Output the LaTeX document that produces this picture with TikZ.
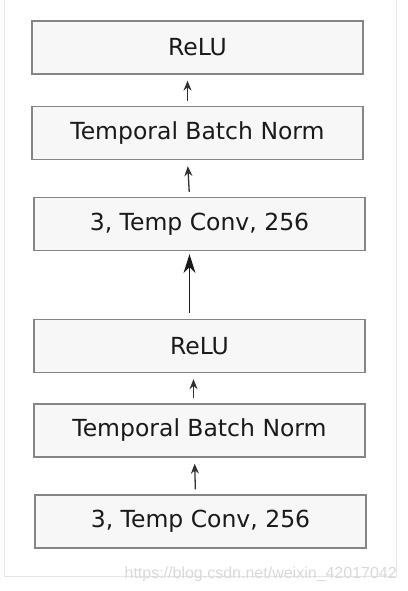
\documentclass[tikz,border=0pt]{standalone}
\usepackage{fontspec}
\setmainfont{DejaVu Sans}
\newfontfamily\wmfont{Liberation Sans}
\usetikzlibrary{arrows.meta,positioning}

\definecolor{boxfill}{HTML}{F7F7F7}
\definecolor{boxline}{HTML}{858585}
\definecolor{txtcol}{HTML}{1A1A1A}

\tikzset{
  layer/.style={draw=boxline,fill=boxfill,line width=1.3pt,minimum width=331pt,minimum height=53pt,inner sep=0pt,text=txtcol,font=\fontsize{23.5}{28}\selectfont},
  flow/.style={draw=txtcol!90,line width=1.3pt,-{Stealth[length=10pt,width=8pt]},shorten <=5pt,shorten >=6pt},
  bigflow/.style={draw=txtcol,line width=1.8pt,-{Stealth[length=19pt,width=12pt]},shorten <=6pt,shorten >=3pt}
}

\begin{document}
\begin{tikzpicture}[x=1pt,y=-1pt]
    \useasboundingbox (0,0) rectangle (407,591);
    \draw[gray!20,line width=1pt] (4,0) -- (4,576) -- (396,576) -- (396,0); % rahmen

    % oberer block
    \node[layer] (relutop) at (197.5,47.5) {ReLU};
    \node[layer] (normtop) at (197.5,133) {Temporal Batch Norm};
    \node[layer] (convtop) at (199.5,224) {3, Temp Conv, 256};

    % unterer block
    \node[layer] (relubot) at (199.5,346) {ReLU};
    \node[layer] (normbot) at (199.5,430.5) {Temporal Batch Norm};
    \node[layer] (convbot) at (200.5,521.5) {3, Temp Conv, 256};

    \draw[flow] ([xshift=-10pt]normtop.north) -- ([xshift=-10pt]relutop.south);
    \draw[flow] ([xshift=-10pt]convtop.north) -- ([xshift=-10pt]normtop.south);
    \draw[bigflow] ([xshift=-10pt]relubot.north) -- ([xshift=-10pt]convtop.south);
    \draw[flow] ([xshift=-6pt]normbot.north) -- ([xshift=-6pt]relubot.south);
    \draw[flow] ([xshift=-5pt]convbot.north) -- ([xshift=-5pt]normbot.south);

    \node[anchor=base east,inner sep=0pt,text=gray!30,font=\wmfont\fontsize{16}{18}\selectfont] (wm) at (397,578) {https://blog.csdn.net/weixin\_42017042};
\end{tikzpicture}
\end{document}
